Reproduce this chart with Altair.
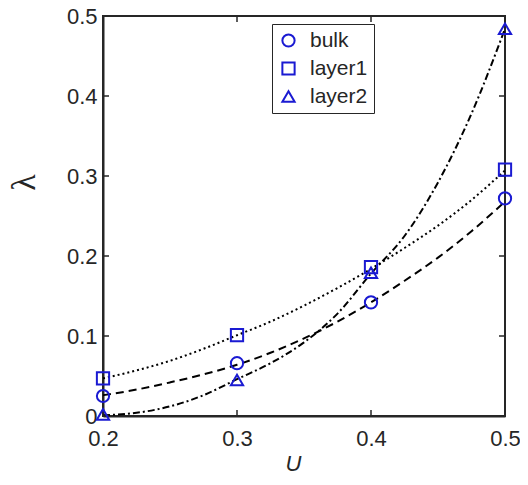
import altair as alt
import pandas as pd

# marker data
U = [0.2, 0.3, 0.4, 0.5]
bulk = [0.025, 0.066, 0.142, 0.272]
layer1 = [0.047, 0.101, 0.186, 0.308]
layer2 = [0.002, 0.045, 0.179, 0.484]

# fitted curves
curve_u = [0.2, 0.225, 0.25, 0.275, 0.3, 0.325, 0.35, 0.375, 0.4, 0.425, 0.45, 0.475, 0.5]
curve_bulk = [0.026, 0.033, 0.042, 0.052, 0.064, 0.079, 0.097, 0.118, 0.142, 0.169, 0.198, 0.231, 0.268]
curve_layer1 = [0.047, 0.057, 0.069, 0.084, 0.101, 0.118, 0.138, 0.160, 0.184, 0.210, 0.238, 0.270, 0.307]
curve_layer2 = [0.001, 0.004, 0.012, 0.026, 0.046, 0.066, 0.092, 0.128, 0.178, 0.225, 0.292, 0.378, 0.484]

series = ["bulk", "layer1", "layer2"]
dashes = [[8, 5], [2, 3], [7, 3, 2, 3]]
x_ticks = [0.2, 0.3, 0.4, 0.5]
y_ticks = [0.0, 0.1, 0.2, 0.3, 0.4, 0.5]

pts = pd.DataFrame(
    [{"U": u, "lam": v, "series": s}
     for s, vals in zip(series, [bulk, layer1, layer2])
     for u, v in zip(U, vals)]
)
curves = pd.DataFrame(
    [{"U": u, "lam": v, "curve": s}
     for s, vals in zip(series, [curve_bulk, curve_layer1, curve_layer2])
     for u, v in zip(curve_u, vals)]
)

W, H = 402, 400
AX = "#262626"
BLUE = "#1a1ad2"
FONT = "Liberation Sans"

xscale = alt.Scale(domain=[0.2, 0.5], nice=False, zero=False)
yscale = alt.Scale(domain=[0, 0.5], nice=False)

xaxis = alt.Axis(values=x_ticks, format=".1f", title="U", grid=False, tickSize=0,
                 labelFlush=False, labelPadding=12, labelFontSize=22, labelFont=FONT,
                 labelColor=AX, domainColor=AX, domainWidth=2, titleFont=FONT,
                 titleFontSize=22, titleFontStyle="italic", titleFontWeight="normal",
                 titleColor=AX, titlePadding=4, titleX=190)
yaxis = alt.Axis(values=y_ticks, labelExpr="datum.value == 0 ? '0' : format(datum.value, '.1f')",
                 title="λ", grid=False, tickSize=0, labelFlush=False, labelPadding=6,
                 labelFontSize=22, labelFont=FONT, labelColor=AX, domainColor=AX, domainWidth=2,
                 titleFont="Liberation Serif", titleFontSize=34, titleFontWeight="normal",
                 titleColor=AX, titleX=-62, titleY=166)

line_layers = []
for i, (s, d) in enumerate(zip(series, dashes)):
    if i == 0:
        enc = dict(x=alt.X("U:Q", scale=xscale, axis=xaxis),
                   y=alt.Y("lam:Q", scale=yscale, axis=yaxis))
    else:
        enc = dict(x=alt.X("U:Q", scale=xscale), y=alt.Y("lam:Q", scale=yscale))
    line_layers.append(
        alt.Chart(curves).transform_filter(alt.datum.curve == s)
        .mark_line(color="black", strokeWidth=2, strokeDash=d, interpolate="monotone")
        .encode(**enc)
    )

points = alt.Chart(pts).mark_point(filled=False, color=BLUE, strokeWidth=2, size=150, opacity=1).encode(
    x=alt.X("U:Q", scale=xscale),
    y=alt.Y("lam:Q", scale=yscale),
    shape=alt.Shape("series:N", scale=alt.Scale(domain=series, range=["circle", "square", "triangle-up"]),
                    legend=alt.Legend(orient="none", legendX=169, legendY=8, title=None,
                                      strokeColor=AX, padding=6, labelFontSize=21, labelFont=FONT,
                                      labelColor=AX, labelOffset=11, rowPadding=6, symbolSize=150,
                                      symbolStrokeColor=BLUE, symbolStrokeWidth=2,
                                      symbolFillColor="transparent", fillColor="white")),
)

xt = pd.DataFrame({"t": x_ticks})
yt = pd.DataFrame({"t": y_ticks})
tick_style = dict(color=AX, strokeWidth=1.5)
xb = alt.Chart(xt).mark_rule(**tick_style).encode(x=alt.X("t:Q", scale=xscale), y=alt.value(H), y2=alt.value(H - 6))
xtop = alt.Chart(xt).mark_rule(**tick_style).encode(x=alt.X("t:Q", scale=xscale), y=alt.value(0), y2=alt.value(6))
yl = alt.Chart(yt).mark_rule(**tick_style).encode(y=alt.Y("t:Q", scale=yscale), x=alt.value(0), x2=alt.value(6))
yr = alt.Chart(yt).mark_rule(**tick_style).encode(y=alt.Y("t:Q", scale=yscale), x=alt.value(W), x2=alt.value(W - 6))

chart = alt.layer(*line_layers, xb, xtop, yl, yr, points).properties(
    width=W, height=H,
    autosize=alt.AutoSizeParams(type="none"),
    padding={"left": 95, "top": 8, "right": 15, "bottom": 60},
).configure_view(stroke=AX, strokeWidth=2)

chart.save("out.html", embed_options={"renderer": "svg", "actions": False})
